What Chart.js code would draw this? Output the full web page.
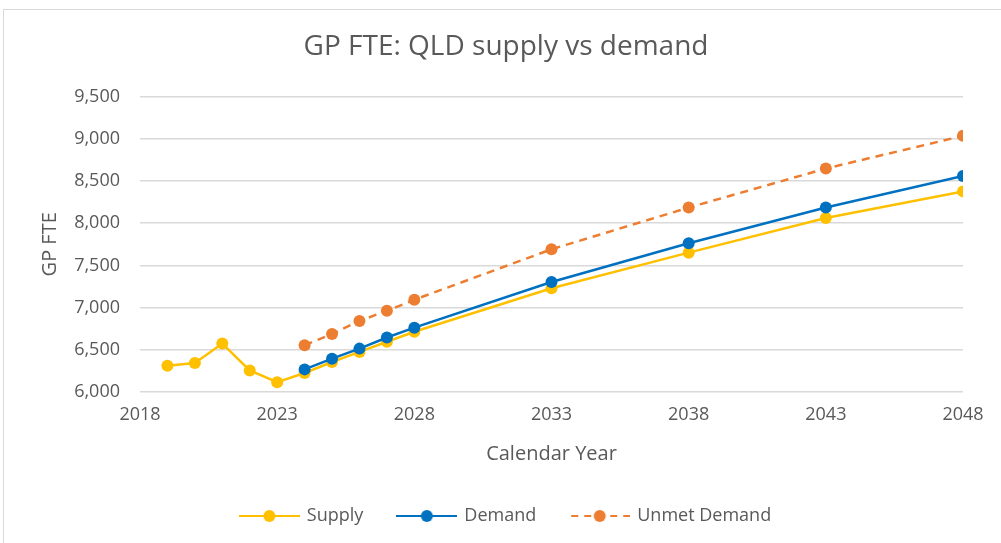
<!DOCTYPE html>
<html>
<head>
<meta charset="utf-8">
<script src="https://cdn.jsdelivr.net/npm/chart.js@4/dist/chart.umd.min.js"></script>
<style>
  html, body { margin: 0; padding: 0; background: #fff; }
  #wrap { position: relative; width: 1001px; height: 543px; overflow: hidden; }
  #frame { position: absolute; left: 3px; top: 9px; width: 1020px; height: 560px; border: 1px solid #d9d9d9; }
  #chart { position: absolute; left: 0; top: 0; }
</style>
</head>
<body>
<div id="wrap">
  <div id="frame"></div>
  <canvas id="chart" width="1001" height="543"></canvas>
</div>
<script>
// Chart data
const supplyYears = [2019, 2020, 2021, 2022, 2023, 2024, 2025, 2026, 2027, 2028, 2033, 2038, 2043, 2048];
const supplyValues = [6311, 6343, 6574, 6256, 6116, 6225, 6355, 6475, 6595, 6714, 7230, 7651, 8062, 8377];

const demandYears = [2024, 2025, 2026, 2027, 2028, 2033, 2038, 2043, 2048];
const demandValues = [6268, 6395, 6514, 6646, 6762, 7304, 7763, 8185, 8560];

const unmetYears = [2024, 2025, 2026, 2027, 2028, 2033, 2038, 2043, 2048];
const unmetValues = [6555, 6687, 6842, 6962, 7093, 7691, 8185, 8648, 9035];

const xTicks = [2018, 2023, 2028, 2033, 2038, 2043, 2048];

const FONT = "'Open Sans', 'Noto Sans', sans-serif";
const TEXT = '#595959';

function toPoints(xs, ys) {
    return xs.map((x, i) => ({ x: x, y: ys[i] }));
}

// small line + dot icon used in the legend
function legendIcon(color, dashed) {
    const c = document.createElement('canvas');
    c.width = 61;
    c.height = 14;
    const g = c.getContext('2d');
    g.strokeStyle = color;
    g.lineWidth = 2;
    if (dashed) g.setLineDash([7, 6]);
    g.beginPath();
    g.moveTo(dashed ? 2 : 0, 7);
    g.lineTo(61, 7);
    g.stroke();
    g.fillStyle = color;
    g.beginPath();
    g.arc(30.5, 7, 6, 0, Math.PI * 2);
    g.fill();
    return c;
}

function series(label, xs, ys, color, dashed, order) {
    return {
        label: label,
        data: toPoints(xs, ys),
        borderColor: color,
        backgroundColor: color,
        borderWidth: 2.5,
        borderDash: dashed ? [8, 6] : [],
        pointRadius: 6,
        pointHoverRadius: 7,
        pointBorderWidth: 0,
        pointBackgroundColor: color,
        tension: 0,
        order: order,
        icon: legendIcon(color, dashed)
    };
}

const ctx = document.getElementById('chart').getContext('2d');

new Chart(ctx, {
    type: 'line',
    data: {
        datasets: [
            series('Supply', supplyYears, supplyValues, '#FFC000', false, 3),
            series('Demand', demandYears, demandValues, '#0070C0', false, 2),
            series('Unmet Demand', unmetYears, unmetValues, '#ED7D31', true, 1)
        ]
    },
    options: {
        responsive: false,
        animation: false,
        // left/right padding chosen so title and legend centre on the frame
        layout: { padding: { left: 49, right: 38, top: 0, bottom: 8 } },
        scales: {
            x: {
                type: 'linear',
                min: 2018,
                max: 2048,
                afterBuildTicks: function(scale) {
                    scale.ticks = xTicks.map(v => ({ value: v }));
                },
                afterFit: function(scale) {
                    scale.height = 80;
                },
                grid: { display: false },
                border: { display: false },
                ticks: {
                    color: TEXT,
                    font: { family: FONT, size: 18 },
                    padding: 4,
                    maxRotation: 0,
                    callback: v => String(v)
                },
                title: {
                    display: true,
                    text: 'Calendar Year',
                    color: TEXT,
                    font: { family: FONT, size: 20 },
                    padding: { top: 0, bottom: 6 }
                }
            },
            y: {
                min: 6000,
                max: 9500,
                afterFit: function(scale) {
                    scale.width = 91;
                },
                ticks: {
                    stepSize: 500,
                    color: TEXT,
                    font: { family: FONT, size: 18 },
                    padding: 20
                },
                grid: { color: '#d9d9d9', lineWidth: 1.5, drawTicks: false },
                border: { display: false },
                title: {
                    display: true,
                    text: 'GP FTE',
                    color: TEXT,
                    font: { family: FONT, size: 20 },
                    padding: { top: -11, bottom: 0 }
                }
            }
        },
        plugins: {
            title: {
                display: true,
                text: 'GP FTE: QLD supply vs demand',
                color: TEXT,
                font: { family: FONT, size: 28, weight: 'normal' },
                padding: { top: 30, bottom: 33 }
            },
            legend: {
                position: 'bottom',
                labels: {
                    color: TEXT,
                    font: { family: FONT, size: 18 },
                    usePointStyle: true,
                    pointStyleWidth: 57,
                    boxHeight: 14,
                    padding: 35,
                    generateLabels: function(chart) {
                        return chart.data.datasets.map((ds, i) => ({
                            text: ds.label,
                            pointStyle: ds.icon,
                            fillStyle: ds.borderColor,
                            strokeStyle: ds.borderColor,
                            fontColor: TEXT,
                            lineWidth: 0,
                            hidden: false,
                            datasetIndex: i
                        }));
                    }
                }
            },
            tooltip: { enabled: false }
        }
    }
});
</script>
</body>
</html>
